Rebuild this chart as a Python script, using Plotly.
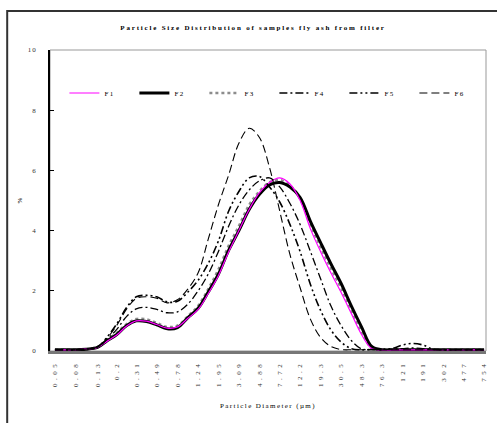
import plotly.graph_objects as go

# ---------------- data ----------------
diameters = [0.05, 0.063, 0.08, 0.1, 0.13, 0.16, 0.2, 0.25, 0.31, 0.39, 0.49, 0.62, 0.78, 0.98,
             1.24, 1.55, 1.95, 2.46, 3.09, 3.89, 4.88, 6.14, 7.72, 9.72, 12.2, 15.4, 19.3, 24.3,
             30.5, 38.4, 48.3, 60.7, 76.3, 96, 121, 152, 191, 241, 302, 380, 477, 600, 754]

tick_values = [0.05, 0.08, 0.13, 0.2, 0.31, 0.49, 0.78, 1.24, 1.95, 3.09, 4.88, 7.72, 12.2,
               19.3, 30.5, 48.3, 76.3, 121, 191, 302, 477, 754]
tick_labels = ["0.05", "0.08", "0.13", "0.2", "0.31", "0.49", "0.78", "1.24", "1.95", "3.09",
               "4.88", "7.72", "12.2", "19.3", "30.5", "48.3", "76.3", "121", "191", "302",
               "477", "754"]

F1 = [0.04, 0.04, 0.04, 0.06,
      0.12, 0.32, 0.53, 0.83, 1.0, 0.99, 0.88, 0.76, 0.8,
      1.08, 1.38, 1.9, 2.5, 3.3, 4.0, 4.7, 5.25, 5.6, 5.75,
      5.55, 5.0, 4.05, 3.3, 2.6, 1.95, 1.25, 0.55, 0.08, 0.04,
      0.04, 0.04, 0.04, 0.04, 0.04, 0.04, 0.04, 0.04, 0.04, 0.04]
F2 = [0.04, 0.04, 0.04, 0.06,
      0.12, 0.33, 0.55, 0.85, 1.0, 0.98, 0.87, 0.74, 0.78,
      1.1, 1.42, 1.95, 2.55, 3.35, 4.0, 4.7, 5.2, 5.52, 5.6,
      5.45, 5.1, 4.3, 3.6, 2.9, 2.25, 1.5, 0.8, 0.15, 0.04,
      0.04, 0.04, 0.04, 0.04, 0.04, 0.04, 0.04, 0.04, 0.04, 0.04]
F3 = [0.04, 0.04, 0.04, 0.06,
      0.13, 0.36, 0.6, 0.9, 1.06, 1.05, 0.93, 0.8, 0.84,
      1.15, 1.5, 2.05, 2.7, 3.5, 4.15, 4.85, 5.3, 5.6, 5.68,
      5.5, 5.05, 4.2, 3.45, 2.75, 2.1, 1.35, 0.65, 0.1, 0.04,
      0.04, 0.04, 0.04, 0.04, 0.04, 0.04, 0.04, 0.04, 0.04, 0.04]
F4 = [0.04, 0.04, 0.04, 0.06,
      0.13, 0.38, 0.72, 1.15, 1.4, 1.45, 1.38, 1.27, 1.3,
      1.55, 2.0, 2.55, 3.3, 4.15, 4.85, 5.35, 5.65, 5.75, 5.45,
      4.9, 4.2, 3.3, 2.4, 1.5, 0.85, 0.35, 0.07, 0.05, 0.05,
      0.06, 0.08, 0.1, 0.08, 0.05, 0.04, 0.04, 0.04, 0.04, 0.04]
F5 = [0.04, 0.04, 0.04, 0.06,
      0.14, 0.45, 0.9, 1.45, 1.8, 1.85, 1.8, 1.63, 1.65,
      1.95, 2.35, 2.9, 3.65, 4.65, 5.3, 5.75, 5.8, 5.45, 4.95,
      4.2, 3.3, 2.2, 1.35, 0.7, 0.3, 0.08, 0.04, 0.05, 0.06,
      0.08, 0.2, 0.25, 0.2, 0.06, 0.04, 0.04, 0.04, 0.04, 0.04]
F6 = [0.04, 0.04, 0.04, 0.06,
      0.13, 0.42, 0.85, 1.4, 1.75, 1.8, 1.75, 1.6, 1.7,
      2.05, 2.6, 3.7, 4.85, 5.85, 6.9, 7.4, 7.1, 6.1, 4.65,
      3.2, 2.1, 1.05, 0.45, 0.15, 0.05, 0.04, 0.04, 0.04, 0.04,
      0.04, 0.04, 0.04, 0.04, 0.04, 0.04, 0.04, 0.04, 0.04, 0.04]

FONT = "Liberation Serif, Times New Roman, serif"

fig = go.Figure()

styles = [
    ("F3", F3, dict(color="#8c8c8c", width=2.5, dash="dot"), 3),
    ("F2", F2, dict(color="black", width=3), 2),
    ("F1", F1, dict(color="#ff00ff", width=1.2), 1),
    ("F4", F4, dict(color="black", width=1.3, dash="8px,3px,2px,3px"), 4),
    ("F5", F5, dict(color="black", width=1.6, dash="8px,3px,2px,3px,2px,3px"), 5),
    ("F6", F6, dict(color="black", width=1.1, dash="8px,4px"), 6),
]
for name, ys, line, rank in styles:
    fig.add_trace(go.Scatter(x=diameters, y=ys, name=name, mode="lines",
                             line=dict(shape="spline", smoothing=1.0, **line),
                             legendrank=rank))

fig.update_layout(
    width=497, height=423, autosize=False,
    margin=dict(l=50, r=9, t=50, b=72),
    paper_bgcolor="white", plot_bgcolor="white",
    font=dict(family=FONT, size=7, color="black"),
    title=dict(text="<b>Particle Size Distribution of samples fly ash from filter</b>",
               x=(254 - 50) / 438, xref="paper", xanchor="center",
               y=1 - 28 / 423, yanchor="middle",
               font=dict(family=FONT, size=7, color="black")),
    showlegend=True,
    legend=dict(orientation="h", x=0.033, xanchor="left", y=(351 - 93) / 301, yanchor="middle",
                bgcolor="rgba(0,0,0,0)", font=dict(family=FONT, size=7),
                entrywidth=25, entrywidthmode="pixels", traceorder="normal"),
    xaxis=dict(type="log", range=[-1.349, 2.896], tickvals=tick_values, ticktext=tick_labels,
               tickangle=-90, showgrid=False, zeroline=False, showline=True,
               linecolor="#777777", linewidth=3, ticks="", ticklabelstandoff=4,
               tickfont=dict(family=FONT, size=7, color="#333333"),
               title=dict(text="Particle Diameter (µm)", standoff=32,
                          font=dict(family=FONT, size=7))),
    yaxis=dict(range=[0, 10], tickvals=[0, 2, 4, 6, 8, 10], showgrid=False, zeroline=False,
               showline=True, linecolor="black", linewidth=1.5, ticks="inside", ticklen=4,
               tickcolor="black", ticklabelstandoff=10,
               tickfont=dict(family=FONT, size=7, color="#333333"),
               title=dict(text="%", standoff=6, font=dict(family=FONT, size=7))),
    shapes=[
        dict(type="rect", xref="paper", yref="paper", x0=0, x1=1, y0=0, y1=1,
             line=dict(color="#999999", width=1), layer="below"),
        dict(type="rect", xref="paper", yref="paper", x0=-43 / 438, x1=1.1, y0=-0.3,
             y1=(351 - 11) / 301, line=dict(color="#333333", width=2), layer="below"),
    ],
)

post = """
document.body.style.margin='0';
var gd=document.getElementById('{plot_id}');
function sp(sel, v){ gd.querySelectorAll(sel).forEach(function(t){ t.style.letterSpacing=v; }); }
sp('.gtitle','1.8px');
sp('.xtick text','3.5px');
sp('.ytick text','1px');
sp('.xtitle','1.4px');
sp('.legendtext','1.5px');
"""

fig.write_html("out.html", post_script=post, config={"displayModeBar": False})
